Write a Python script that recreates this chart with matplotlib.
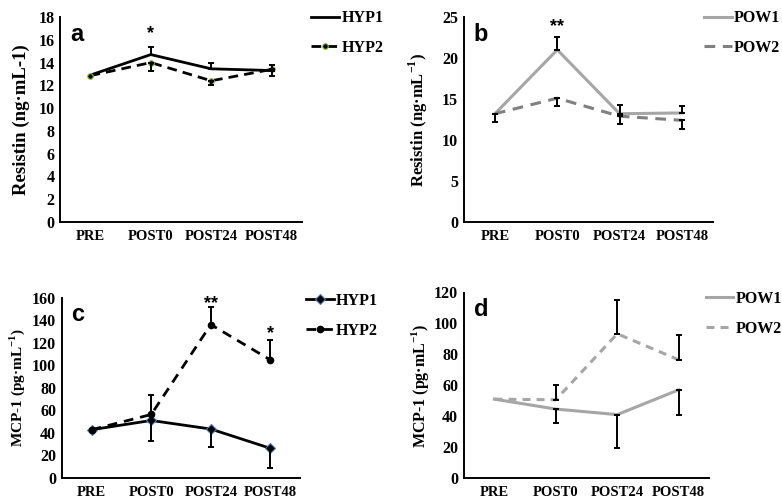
import numpy as np
import matplotlib
matplotlib.use('Agg')
import matplotlib.pyplot as plt
from matplotlib.transforms import blended_transform_factory

# time points
times = ['PRE', 'POST0', 'POST24', 'POST48']

# resistin, hypertrophy groups (ng/mL)
hyp1_res = [12.9, 14.7, 13.45, 13.3]
hyp1_res_err = [0, 0.7, 0.5, 0.5]          # drawn upwards
hyp2_res = [12.85, 14.0, 12.4, 13.4]
hyp2_res_err = [0, 0.7, 0.4, 0.6]          # drawn downwards

# resistin, power groups (ng/mL)
pow1_res = [13.2, 21.0, 13.2, 13.3]
pow1_res_err = [0, 1.6, 1.1, 0.8]
pow2_res = [13.2, 15.1, 12.9, 12.4]
pow2_res_err = [1.0, 1.0, 0.9, 1.0]

# MCP-1, hypertrophy groups (pg/mL)
hyp1_mcp = [42.8, 51.0, 43.4, 26.3]
hyp1_mcp_err = [0, 18, 16, 17]             # drawn downwards
hyp2_mcp = [42.8, 56.3, 136.0, 104.6]
hyp2_mcp_err = [0, 17, 16, 18]             # drawn upwards

# MCP-1, power groups (pg/mL)
pow1_mcp = [51.0, 44.6, 41.0, 57.0]
pow1_mcp_err = [0, 9, 21.6, 16]
pow2_mcp = [51.0, 50.6, 93.3, 76.5]
pow2_mcp_err = [0, 9.5, 21.6, 16]

# significance marks: (panel, index, y, text)
stars = [('a', 1, 16.5, '*'), ('b', 1, 23.8, '**'),
         ('c', 2, 155, '**'), ('c', 3, 128, '*')]

SERIF = 'Liberation Serif'
SANS = 'Liberation Sans'
plt.rcParams['font.family'] = SERIF
plt.rcParams['font.weight'] = 'bold'
plt.rcParams['mathtext.fontset'] = 'custom'
plt.rcParams['mathtext.rm'] = 'Liberation Serif:bold'
plt.rcParams['mathtext.bf'] = 'Liberation Serif:bold'

fig = plt.figure(figsize=(7.82, 5.0), dpi=100)
ax_a = fig.add_axes([0.077, 0.556, 0.309, 0.410])
ax_b = fig.add_axes([0.593, 0.556, 0.319, 0.410])
ax_c = fig.add_axes([0.079, 0.044, 0.305, 0.361])
ax_d = fig.add_axes([0.593, 0.044, 0.314, 0.371])
axes = {'a': ax_a, 'b': ax_b, 'c': ax_c, 'd': ax_d}

x = np.arange(len(times))


def err_bars(ax, y, err, up):
    """片側だけのエラーバーを描く"""
    y = np.asarray(y, float)
    err = np.asarray(err, float)
    m = err > 0
    zeros = np.zeros(m.sum())
    yerr = [zeros, err[m]] if up else [err[m], zeros]
    ax.errorbar(x[m], y[m], yerr=yerr, fmt='none', ecolor='black',
                elinewidth=1.4, capsize=2.5, capthick=1.4, zorder=4)


def style(ax, ymax, step, ylabel, letter, lsize, lx):
    ax.set_xlim(-0.5, 3.5)
    ax.set_ylim(0, ymax)
    ax.set_yticks(np.arange(0, ymax + 0.1, step))
    ax.set_xticks(x)
    ax.set_xticklabels(times)
    for s in ['top', 'right']:
        ax.spines[s].set_visible(False)
    for s in ['left', 'bottom']:
        ax.spines[s].set_linewidth(1.4)
    ax.tick_params(length=0)
    ax.tick_params(axis='x', labelsize=10.5, pad=6)
    ax.tick_params(axis='y', labelsize=11.5, pad=4)
    for t in ax.get_xticklabels() + ax.get_yticklabels():
        t.set_fontweight('bold')
    ax.set_ylabel(ylabel, fontsize=lsize, fontweight='bold')
    # ラベルの横位置は figure px、縦は軸の中央
    tr = blended_transform_factory(fig.transFigure, ax.transAxes)
    ax.yaxis.set_label_coords(lx / 782, 0.5, transform=tr)
    ax.yaxis.label.set_va('center')
    ax.text(0.04, 0.97, letter, transform=ax.transAxes, family=SANS,
            fontweight='bold', fontsize=17, va='top', ha='left')


def legend(ax, x0, y0):
    ax.legend(loc='upper left', bbox_to_anchor=(x0, y0),
              bbox_transform=fig.transFigure, frameon=False,
              handlelength=1.75, handletextpad=0.12, labelspacing=0.85,
              borderpad=0, prop={'family': SERIF, 'weight': 'bold', 'size': 11.5})


# a: resistin HYP
ax_a.plot(x, hyp1_res, color='black', lw=2.0, label='HYP1', zorder=3)
ax_a.plot(x, hyp2_res, color='black', lw=2.0, dashes=(3.5, 2.2),
          marker='o', ms=4, mfc='black', mec='#8fbf3a', mew=0.8,
          label='HYP2', zorder=3)
err_bars(ax_a, hyp1_res, hyp1_res_err, True)
err_bars(ax_a, hyp2_res, hyp2_res_err, False)
style(ax_a, 18, 2, 'Resistin (ng·mL-1)', 'a', 13.5, 21)
legend(ax_a, 0.388, 0.995)

# b: resistin POW
ax_b.plot(x, pow1_res, color='#a6a6a6', lw=2.2, label='POW1', zorder=3)
ax_b.plot(x, pow2_res, color='#808080', lw=2.2, dashes=(3.5, 2.5),
          label='POW2', zorder=3)
err_bars(ax_b, pow1_res, pow1_res_err, True)
err_bars(ax_b, pow2_res, pow2_res_err, False)
style(ax_b, 25, 5, r'Resistin (ng·mL$^{-1}$)', 'b', 12, 418)
legend(ax_b, 0.890, 0.995)

# c: MCP-1 HYP
ax_c.plot(x, hyp1_mcp, color='black', lw=2.0, marker='D', ms=5,
          mfc='black', mec='#4a7fc0', mew=0.8, label='HYP1', zorder=3)
ax_c.plot(x, hyp2_mcp, color='black', lw=2.0, dashes=(3.5, 2.5),
          marker='o', ms=4.5, mfc='black', mec='black',
          label='HYP2', zorder=3)
err_bars(ax_c, hyp1_mcp, hyp1_mcp_err, False)
err_bars(ax_c, hyp2_mcp, hyp2_mcp_err, True)
style(ax_c, 160, 20, r'MCP-1 (pg·mL$^{-1}$)', 'c', 11, 17)
legend(ax_c, 0.381, 0.430)

# d: MCP-1 POW
ax_d.plot(x, pow1_mcp, color='#a6a6a6', lw=2.2, label='POW1', zorder=3)
ax_d.plot(x, pow2_mcp, color='#a6a6a6', lw=2.2, dashes=(2.6, 2.0),
          label='POW2', zorder=3)
err_bars(ax_d, pow1_mcp, pow1_mcp_err, False)
err_bars(ax_d, pow2_mcp, pow2_mcp_err, True)
style(ax_d, 120, 20, r'MCP-1 (pg·mL$^{-1}$)', 'd', 11.5, 420)
legend(ax_d, 0.892, 0.434)

for key, i, yv, txt in stars:
    axes[key].text(x[i], yv, txt, ha='center', va='center', family=SANS,
                   fontweight='bold', fontsize=13)

fig.savefig('out.png', dpi=100)
